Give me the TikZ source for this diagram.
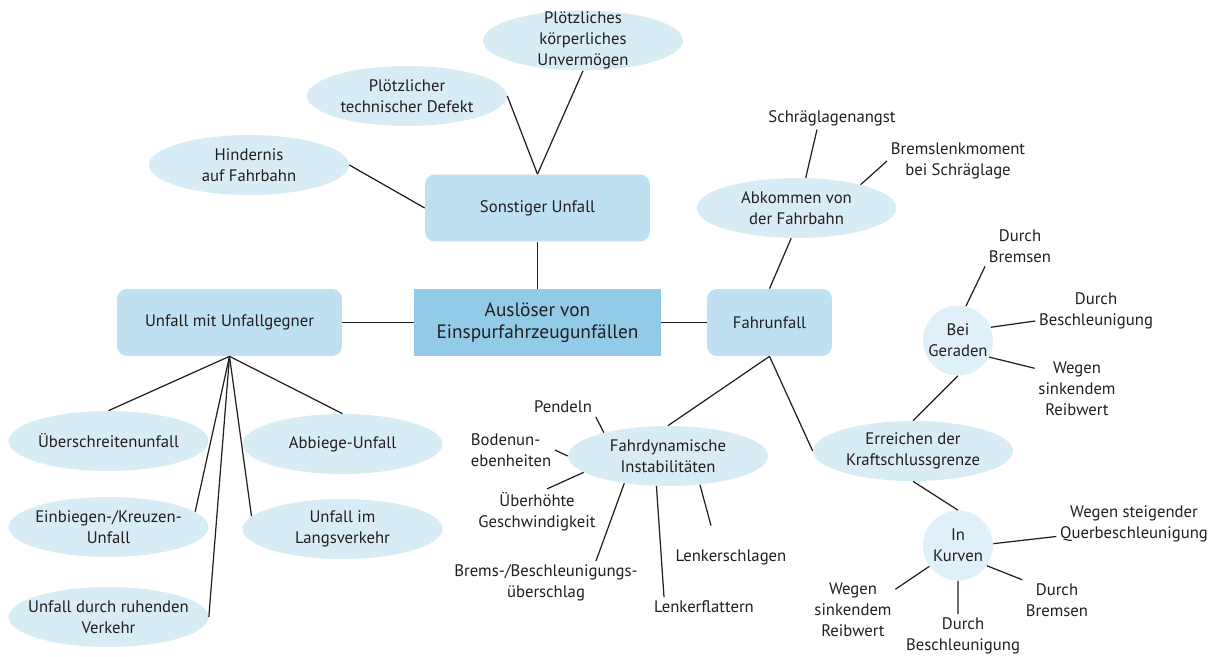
\documentclass[tikz,border=0pt]{standalone}
\usepackage{fontspec}
\setmainfont{PT Sans}
\usetikzlibrary{shapes.geometric,positioning}

\definecolor{rootblue}{HTML}{91CBE8}
\definecolor{branchblue}{HTML}{BEE0F0}
\definecolor{leafblue}{HTML}{D8ECF6}
\definecolor{hubblue}{HTML}{DFF0F8}
\definecolor{ink}{HTML}{231F20}

\begin{document}
\begin{tikzpicture}[x=0.02cm, y=-0.02cm,
                    every node/.append style={align=center, text=ink, font=\fontsize{9.5}{11.9}\selectfont},
                    every edge/.append style={draw=ink, line width=0.7pt},
                    root/.style={rectangle, fill=rootblue, minimum width=4.94cm, minimum height=1.34cm,
                                 font=\fontsize{11}{12.4}\selectfont},
                    branch/.style={rectangle, rounded corners=0.2cm, fill=branchblue, minimum height=1.34cm},
                    leaf/.style={ellipse, fill=leafblue, minimum width=4cm, minimum height=1.2cm, inner sep=0pt},
                    hub/.style={circle, fill=hubblue, minimum size=1.4cm, inner sep=0pt},
                    lbl/.style={inner sep=2pt}]

                   \useasboundingbox (0,0) rectangle (1217,656);

                   % main boxes
                   \node [root] (root) at (537.5,322.5) {Auslöser von\\Einspurfahrzeugunfällen};
                   \node [branch, minimum width=4.5cm] (son) at (537.5,208) {Sonstiger Unfall};
                   \node [branch, minimum width=4.5cm] (umu) at (229.5,322.5) {Unfall mit Unfallgegner};
                   \node [branch, minimum width=2.5cm] (fu) at (769.5,322.5) {Fahrunfall};

                   % Sonstiger Unfall
                   \node [leaf, label={center:Hindernis\\auf Fahrbahn}] (hin) at (249,165) {};
                   \node [leaf, label={center:Plötzlicher\\technischer Defekt}] (ptd) at (407,96) {};
                   \node [leaf, label={center:Plötzliches\\körperliches\\Unvermögen}] (pku) at (583,40.5) {};

                   % Unfall mit Unfallgegner
                   \node [leaf, label={center:Überschreitenunfall}] (ueb) at (108.5,441) {};
                   \node [leaf, label={center:Abbiege-Unfall}] (abb) at (342.5,444) {};
                   \node [leaf, label={center:Einbiegen-/Kreuzen-\\Unfall}] (ein) at (108.5,527) {};
                   \node [leaf, label={center:Unfall im\\Langsverkehr}] (ulv) at (342.5,529) {};
                   \node [leaf, label={center:Unfall durch ruhenden\\Verkehr}] (urv) at (108.5,617) {};

                   % Fahrunfall
                   \node [leaf, label={center:Abkommen von\\der Fahrbahn}] (akf) at (796.5,208) {};
                   \node [leaf, label={center:Fahrdynamische\\Instabilitäten}] (fdi) at (668,456) {};
                   \node [leaf, label={center:Erreichen der\\Kraftschlussgrenze}] (ekg) at (913,451) {};
                   \node [hub, label={center:Bei\\Geraden}] (bg) at (958,340.5) {};
                   \node [hub, label={center:In\\Kurven}] (ik) at (958,545.5) {};

                   \node [lbl] (sla) at (832,118) {Schräglagenangst};
                   \node [lbl] (blm) at (958,161) {Bremslenkmoment\\bei Schräglage};
                   \node [lbl] (pen) at (563,407) {Pendeln};
                   \node [lbl, align=left] (bod) at (511,450) {Bodenun-\\ebenheiten};
                   \node [lbl] (ueg) at (537,512) {Überhöhte\\Geschwindigkeit};
                   \node [lbl] (bbu) at (546,583) {Brems-/Beschleunigungs-\\überschlag};
                   \node [lbl] (lsl) at (731,557) {Lenkerschlagen};
                   \node [lbl] (lfl) at (704,607) {Lenkerflattern};
                   \node [lbl] (gbr) at (1020,246) {Durch\\Bremsen};
                   \node [lbl] (gbe) at (1096,311) {Durch\\Beschleunigung};
                   \node [lbl] (grw) at (1077,389) {Wegen\\sinkendem\\Reibwert};
                   \node [lbl] (kqb) at (1134,524) {Wegen steigender\\Querbeschleunigung};
                   \node [lbl] (kbr) at (1057,600) {Durch\\Bremsen};
                   \node [lbl] (kbe) at (963,636) {Durch\\Beschleunigung};
                   \node [lbl] (krw) at (853,610) {Wegen\\sinkendem\\Reibwert};

                   \path (son) edge (root);
                   \path (umu) edge (root);
                   \path (root) edge (fu);

                   \path (hin.east) edge (son.west);
                   \path (ptd.east) edge (son.north);
                   \path (pku.south) edge (son.north);

                   \path (umu.south) edge (ueb.north);
                   \path (umu.south) edge (abb.north);
                   \path (umu.south) edge (ein.10);
                   \path (umu.south) edge (ulv.172);
                   \path (umu.south) edge (urv.east);

                   \path (fu.north) edge (akf.260);
                   \path (fu.south) edge (fdi.north);
                   \path (fu.south) edge (ekg.west);

                   \path (akf.73) edge ([xshift=-0.3cm]sla.south);
                   \path (akf.20) edge (blm.west);

                   \path (fdi.160) edge (pen.south east);
                   \path (fdi.west) edge (bod.east);
                   \path (fdi.191) edge ([xshift=0.2cm]ueg.north);
                   \path (fdi.212) edge ([xshift=1cm]bbu.north);
                   \path (fdi.249) edge ([xshift=-0.8cm]lfl.north);
                   \path (fdi.318) edge ([xshift=-0.4cm,yshift=0.4cm]lsl.north);

                   \path (ekg.north) edge (bg.south);
                   \path (ekg.south) edge (ik.north);

                   \path (bg.77) edge (gbr.south west);
                   \path (bg.22) edge ([yshift=-0.2cm]gbe.west);
                   \path (bg.-28) edge ([yshift=-0.2cm]grw.north west);

                   \path (ik.3) edge ([yshift=-0.25cm]kqb.west);
                   \path (ik.-35) edge (kbr.north west);
                   \path (ik.south) edge ([xshift=-0.1cm]kbe.north);
                   \path (ik.216) edge ([yshift=-0.2cm]krw.north east);
                \end{tikzpicture}
\end{document}
